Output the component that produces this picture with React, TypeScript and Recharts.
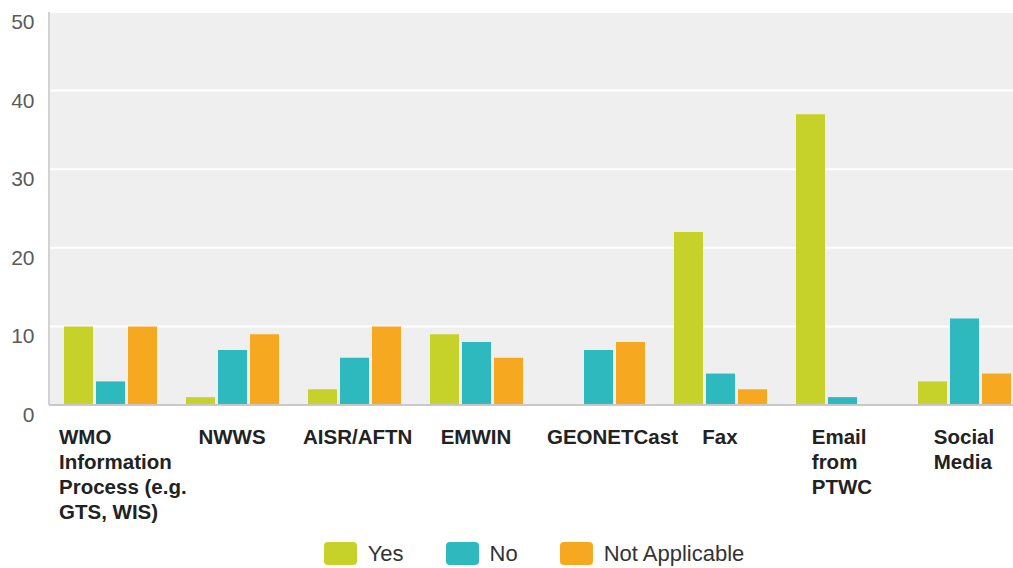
import React from 'react';
import {
  BarChart,
  Bar,
  XAxis,
  YAxis,
  CartesianGrid,
  Legend,
} from 'recharts';

const categories = [
  'WMO Information Process (e.g. GTS, WIS)',
  'NWWS',
  'AISR/AFTN',
  'EMWIN',
  'GEONETCast',
  'Fax',
  'Email from PTWC',
  'Social Media',
];
const tickLines = [
  ['WMO', 'Information', 'Process (e.g.', 'GTS, WIS)'],
  ['NWWS'],
  ['AISR/AFTN'],
  ['EMWIN'],
  ['GEONETCast'],
  ['Fax'],
  ['Email', 'from', 'PTWC'],
  ['Social', 'Media'],
];
const yesValues = [10, 1, 2, 9, 0, 22, 37, 3];
const noValues = [3, 7, 6, 8, 7, 4, 1, 11];
const notApplicableValues = [10, 9, 10, 6, 8, 2, 0, 4];
const yTicks = [0, 10, 20, 30, 40, 50];

const series = [
  { key: 'yes', name: 'Yes', color: '#c6d22a' },
  { key: 'no', name: 'No', color: '#2db9bd' },
  { key: 'na', name: 'Not Applicable', color: '#f6a821' },
];

const data = categories.map((name, i) => ({
  name,
  yes: yesValues[i],
  no: noValues[i],
  na: notApplicableValues[i],
}));

const TICK_FONT = "bold 20.5px 'Liberation Sans', Arial, sans-serif";

let ctx: CanvasRenderingContext2D | null = null;
function textWidth(s: string) {
  if (!ctx) ctx = document.createElement('canvas').getContext('2d');
  if (!ctx) return s.length * 11;
  ctx.font = TICK_FONT;
  return ctx.measureText(s).width;
}

function XTick(props: any) {
  const { x, y, payload } = props;
  const idx = categories.indexOf(payload.value);
  const lines = tickLines[idx] || [String(payload.value)];
  const w = Math.max(...lines.map(textWidth));
  // centred under the group, but wide labels get pushed right
  const left = Math.max(x - w / 2, x - 51);
  return (
    <text
      x={left}
      y={y + 39}
      textAnchor="start"
      fill="#222"
      style={{ font: TICK_FONT }}
    >
      {lines.map((l, i) => (
        <tspan key={i} x={left} dy={i === 0 ? 0 : 25}>
          {l}
        </tspan>
      ))}
    </text>
  );
}

function YTick(props: any) {
  const { y, payload } = props;
  return (
    <text
      x={34.5}
      y={y + 17}
      textAnchor="end"
      fill="#5a5a5a"
      fontSize={21}
      fontFamily="'Liberation Sans', Arial, sans-serif"
    >
      {payload.value}
    </text>
  );
}

function renderLegend() {
  return (
    <div
      style={{
        height: 40,
        boxSizing: 'border-box',
        paddingTop: 14,
        display: 'flex',
        justifyContent: 'center',
        fontFamily: "'Liberation Sans', Arial, sans-serif",
        fontSize: 22,
        color: '#333',
      }}
    >
      {series.map((s, i) => (
        <div
          key={s.key}
          style={{
            display: 'flex',
            alignItems: 'center',
            height: 23,
            marginLeft: i === 0 ? 0 : 42,
          }}
        >
          <span
            style={{
              display: 'inline-block',
              width: 33,
              height: 23,
              borderRadius: 4,
              background: s.color,
              marginRight: 11,
            }}
          />
          <span style={{ lineHeight: '23px' }}>{s.name}</span>
        </div>
      ))}
    </div>
  );
}

export default function App() {
  return (
    <div
      style={{
        position: 'absolute',
        left: 0,
        top: 0,
        width: 1013,
        height: 568,
        overflow: 'hidden',
        background: '#fff',
      }}
    >
      <BarChart
        width={1025}
        height={568}
        data={data}
        margin={{ top: 12, right: 0, left: 0, bottom: 0 }}
        barSize={29}
        barGap={3}
      >
        <CartesianGrid
          vertical={false}
          fill="#efefef"
          stroke="#ffffff"
          strokeWidth={2}
        />
        <XAxis
          dataKey="name"
          height={123}
          interval={0}
          tickLine={false}
          tickSize={0}
          tickMargin={0}
          axisLine={{ stroke: '#c8c8c8', strokeWidth: 2 }}
          tick={<XTick />}
        />
        <YAxis
          width={49}
          domain={[0, 50]}
          ticks={yTicks}
          tickLine={false}
          axisLine={{ stroke: '#d2d2d2', strokeWidth: 2 }}
          tick={<YTick />}
        />
        <Legend
          verticalAlign="bottom"
          height={40}
          content={renderLegend}
          wrapperStyle={{ left: 44, width: 980 }}
        />
        {series.map((s) => (
          <Bar
            key={s.key}
            dataKey={s.key}
            name={s.name}
            fill={s.color}
            isAnimationActive={false}
          />
        ))}
      </BarChart>
    </div>
  );
}
